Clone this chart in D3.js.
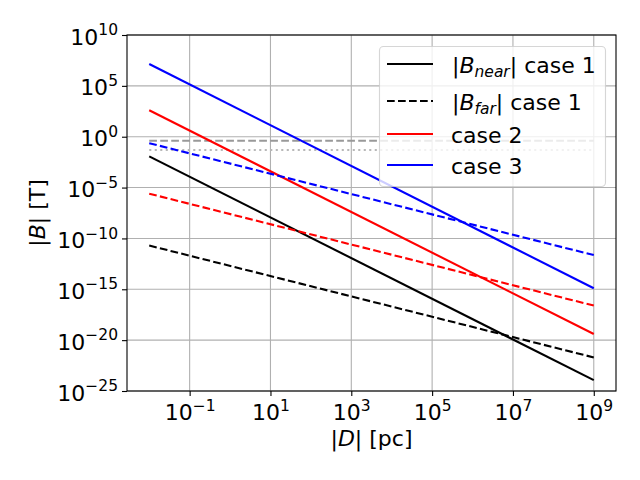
<!DOCTYPE html>
<html>
<head>
<meta charset="utf-8">
<script src="https://cdn.jsdelivr.net/npm/d3@7"></script>
<style>
  body { margin: 0; background: #fff; }
  svg { font-family: "DejaVu Sans", sans-serif; }
  text { white-space: pre; }
</style>
</head>
<body>
<svg id="chart" width="640" height="480"></svg>
<script>
const WIDTH = 640,
      HEIGHT = 480,
      LEFT = 127,
      RIGHT = 616,
      TOP = 35,
      BOTTOM = 391,
      FONT = 22,
      SUP = 15.5;

// |D| in pc at the ends of every line
const distance = [1e-2, 1e9];

// |B| in T
const nearCase1 = [1.17e-2, 1.17e-24];
const farCase1  = [2.0e-11, 2.0e-22];
const nearCase2 = [4.0e2, 4.0e-20];
const farCase2  = [2.5e-6, 2.5e-17];
const nearCase3 = [1.4e7, 1.26e-15];
const farCase3  = [2.3e-1, 2.3e-12];

// two horizontal reference levels
const levelDashed = 0.4;
const levelDotted = 0.05;

// tick exponents
const xTickExp = [-1, 1, 3, 5, 7, 9];
const yTickExp = [-25, -20, -15, -10, -5, 0, 5, 10];

const xDomain = [Math.pow(10, -2.55), Math.pow(10, 9.55)];
const yDomain = [1e-25, 1e10];

const series = [
    { values: nearCase1, color: '#000000', dash: null },
    { values: farCase1,  color: '#000000', dash: '7.7,3.3' },
    { values: nearCase2, color: '#ff0000', dash: null },
    { values: farCase2,  color: '#ff0000', dash: '7.7,3.3' },
    { values: nearCase3, color: '#0000ff', dash: null },
    { values: farCase3,  color: '#0000ff', dash: '7.7,3.3' }
];

const svg = d3.select('#chart');

const x = d3.scaleLog().domain(xDomain).range([LEFT, RIGHT]);
const y = d3.scaleLog().domain(yDomain).range([BOTTOM, TOP]);

function minus(e) {
    return String(e).replace('-', '\u2212');
}

function powLabel(sel, e) {
    sel.text(null);
    sel.append('tspan').text('10');
    sel.append('tspan')
        .attr('dy', -9.3)
        .style('font-size', SUP + 'px')
        .text(minus(e));
}

// grid
svg.append('g')
    .selectAll('line')
    .data(xTickExp)
    .enter()
    .append('line')
    .attr('x1', d => x(Math.pow(10, d)))
    .attr('x2', d => x(Math.pow(10, d)))
    .attr('y1', TOP)
    .attr('y2', BOTTOM)
    .style('stroke', '#b0b0b0')
    .style('stroke-width', 1.1);

svg.append('g')
    .selectAll('line')
    .data(yTickExp)
    .enter()
    .append('line')
    .attr('x1', LEFT)
    .attr('x2', RIGHT)
    .attr('y1', d => y(Math.pow(10, d)))
    .attr('y2', d => y(Math.pow(10, d)))
    .style('stroke', '#b0b0b0')
    .style('stroke-width', 1.1);

const line = d3.line()
    .x((d, i) => x(distance[i]))
    .y(d => y(d));

// horizontal levels
svg.append('path')
    .attr('d', line([levelDashed, levelDashed]))
    .style('fill', 'none')
    .style('stroke', '#999999')
    .style('stroke-width', 2.1)
    .style('stroke-dasharray', '7.7,3.3');

svg.append('path')
    .attr('d', line([levelDotted, levelDotted]))
    .style('fill', 'none')
    .style('stroke', '#b8b8b8')
    .style('stroke-width', 2.1)
    .style('stroke-dasharray', '2.1,3.4');

svg.append('g')
    .selectAll('path')
    .data(series)
    .enter()
    .append('path')
    .attr('d', s => line(s.values))
    .style('fill', 'none')
    .style('stroke', s => s.color)
    .style('stroke-width', 2.1)
    .style('stroke-dasharray', s => s.dash);

// axes
const xAxis = d3.axisBottom(x)
    .tickValues(xTickExp.map(e => Math.pow(10, e)))
    .tickSize(5)
    .tickSizeOuter(0);

const yAxis = d3.axisLeft(y)
    .tickValues(yTickExp.map(e => Math.pow(10, e)))
    .tickSize(5)
    .tickSizeOuter(0);

const gx = svg.append('g')
    .attr('transform', `translate(0,${BOTTOM})`)
    .call(xAxis);
gx.select('.domain').remove();
gx.selectAll('line').style('stroke', '#000').style('stroke-width', 1.1);
gx.selectAll('text')
    .attr('y', 29)
    .attr('dy', null)
    .style('font-size', FONT + 'px')
    .style('font-family', '"DejaVu Sans"')
    .style('fill', '#000')
    .each(function (d, i) { powLabel(d3.select(this), xTickExp[i]); });

const gy = svg.append('g')
    .attr('transform', `translate(${LEFT},0)`)
    .call(yAxis);
gy.select('.domain').remove();
gy.selectAll('line').style('stroke', '#000').style('stroke-width', 1.1);
gy.selectAll('text')
    .attr('x', -9)
    .attr('dy', 9)
    .style('font-size', FONT + 'px')
    .style('font-family', '"DejaVu Sans"')
    .style('fill', '#000')
    .each(function (d, i) { powLabel(d3.select(this), yTickExp[i]); });

// frame
svg.append('rect')
    .attr('x', LEFT)
    .attr('y', TOP)
    .attr('width', RIGHT - LEFT)
    .attr('height', BOTTOM - TOP)
    .style('fill', 'none')
    .style('stroke', '#000')
    .style('stroke-width', 1.1);

// axis labels
const xl = svg.append('text')
    .attr('x', (LEFT + RIGHT) / 2)
    .attr('y', 446)
    .attr('text-anchor', 'middle')
    .style('font-size', FONT + 'px');
xl.append('tspan').text('|');
xl.append('tspan').style('font-style', 'italic').text('D');
xl.append('tspan').text('| [pc]');

const yl = svg.append('text')
    .attr('transform', `translate(45,${(TOP + BOTTOM) / 2}) rotate(-90)`)
    .attr('text-anchor', 'middle')
    .style('font-size', FONT + 'px');
yl.append('tspan').text('|');
yl.append('tspan').style('font-style', 'italic').text('B');
yl.append('tspan').text('| [T]');

// legend
const legendRows = [
    { color: '#000000', dash: null, sub: 'near', rowY: 64 },
    { color: '#000000', dash: '7.7,3.3', sub: 'far', rowY: 101 },
    { color: '#ff0000', dash: null, label: 'case 2', rowY: 134 },
    { color: '#0000ff', dash: null, label: 'case 3', rowY: 165 }
];

const legend = svg.append('g');

legend.append('rect')
    .attr('x', 379.5)
    .attr('y', 46.5)
    .attr('width', 226)
    .attr('height', 140)
    .attr('rx', 4)
    .style('fill', '#fff')
    .style('fill-opacity', 0.8)
    .style('stroke', '#cccccc')
    .style('stroke-opacity', 0.8)
    .style('stroke-width', 1.1);

legend.selectAll('line')
    .data(legendRows)
    .enter()
    .append('line')
    .attr('x1', 387)
    .attr('x2', 433)
    .attr('y1', d => d.rowY)
    .attr('y2', d => d.rowY)
    .style('stroke', d => d.color)
    .style('stroke-width', 2.1)
    .style('stroke-dasharray', d => d.dash);

legend.selectAll('text')
    .data(legendRows)
    .enter()
    .append('text')
    .attr('x', d => d.sub ? 452 : 451)
    .attr('y', d => d.rowY + 8.5)
    .style('font-size', FONT + 'px')
    .each(function (d) {
        const t = d3.select(this);
        if (!d.sub) { t.text(d.label); return; }
        t.append('tspan').text('|');
        t.append('tspan').style('font-style', 'italic').text('B');
        t.append('tspan').attr('dy', 4).style('font-style', 'italic').style('font-size', SUP + 'px').text(d.sub);
        t.append('tspan').attr('dy', -4).text('| case 1');
    });
</script>
</body>
</html>
